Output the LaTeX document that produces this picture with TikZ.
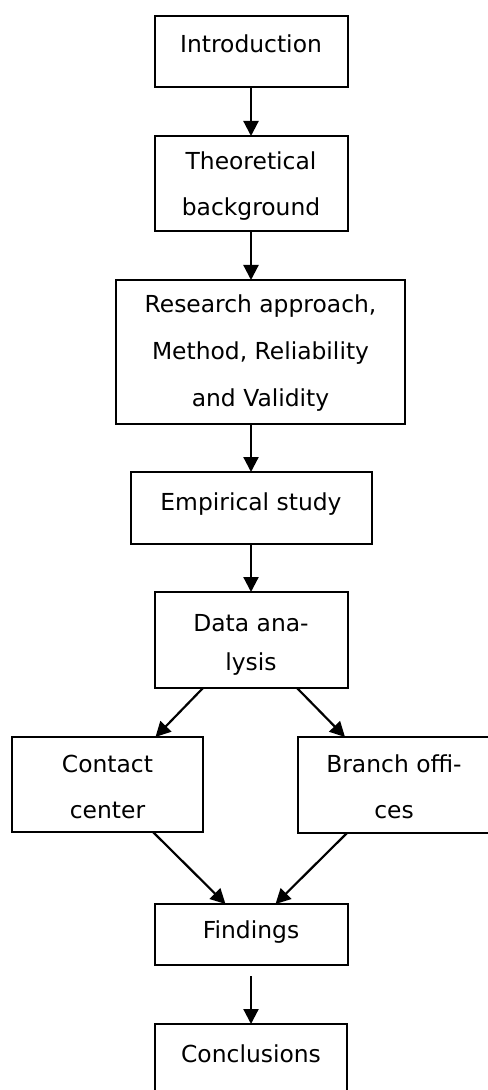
\documentclass[tikz,border=0pt]{standalone}
\usepackage{fontspec}
\setmainfont{DejaVu Sans}
\usetikzlibrary{arrows.meta}
\begin{document}
\begin{tikzpicture}
          [x=0.5pt,y=-0.5pt,
          font=\fontsize{11.7}{23}\selectfont,
          block/.style={shape=rectangle,draw=black,line width=1pt,align=center,inner sep=0pt,outer sep=0pt,anchor=north},
          arc/.style={-{Triangle[length=7.5pt,width=7.5pt]},line width=1.1pt}]

            \useasboundingbox (0,0) rectangle (487,1090);
            \node (intro) [block,minimum width=96.5pt,text height=18.5pt,text depth=17pt] at (251,16) {Introduction};
            \node (theory) [block,minimum width=96.5pt,text height=40pt,text depth=7.5pt] at (251,136) {Theoretical\\background};
            \node (method) [block,minimum width=144.5pt,text height=63.5pt,text depth=8.5pt,font=\fontsize{11.7}{23.5}\selectfont] at (260.5,280) {Research approach,\\Method, Reliability\\and Validity};
            \node (empir) [block,minimum width=120.5pt,text height=19pt,text depth=17pt] at (251,472) {Empirical study};
            \node (analysis) [block,minimum width=96.5pt,text height=39.25pt,text depth=8.75pt,font=\fontsize{11.7}{19.5}\selectfont] at (251,592) {Data ana-\\lysis};
            \node (contact) [block,minimum width=95.5pt,text height=40.5pt,text depth=7pt] at (107.5,737) {Contact\\center};
            \node (branch) [block,minimum width=96pt,text height=40.5pt,text depth=7.5pt] at (394,737) {Branch offi-\\ces};
            \node (findings) [block,minimum width=96.5pt,text height=17pt,text depth=13.5pt] at (251,904) {Findings};
            \node (concl) [block,minimum width=96pt,text height=19pt,text depth=17pt] at (251,1024) {Conclusions};

          \draw [arc] (intro) -- (theory);
          \draw [arc] (theory.south) -- (theory.south |- method.north);
          \draw [arc] (empir.north |- method.south) -- (empir);
          \draw [arc] (empir) -- (analysis);
          \draw [arc] ([xshift=-24pt]analysis.south) -- ([xshift=24pt]contact.north);
          \draw [arc] ([xshift=23pt]analysis.south) -- ([xshift=-24.5pt]branch.north);
          \draw [arc] ([xshift=22.75pt]contact.south) -- ([xshift=-12.75pt]findings.north);
          \draw [arc] ([xshift=-23.5pt]branch.south) -- ([xshift=12.25pt]findings.north);
          \draw [arc] ([yshift=-5.5pt]findings.south) -- (concl);

        \end{tikzpicture}
\end{document}
